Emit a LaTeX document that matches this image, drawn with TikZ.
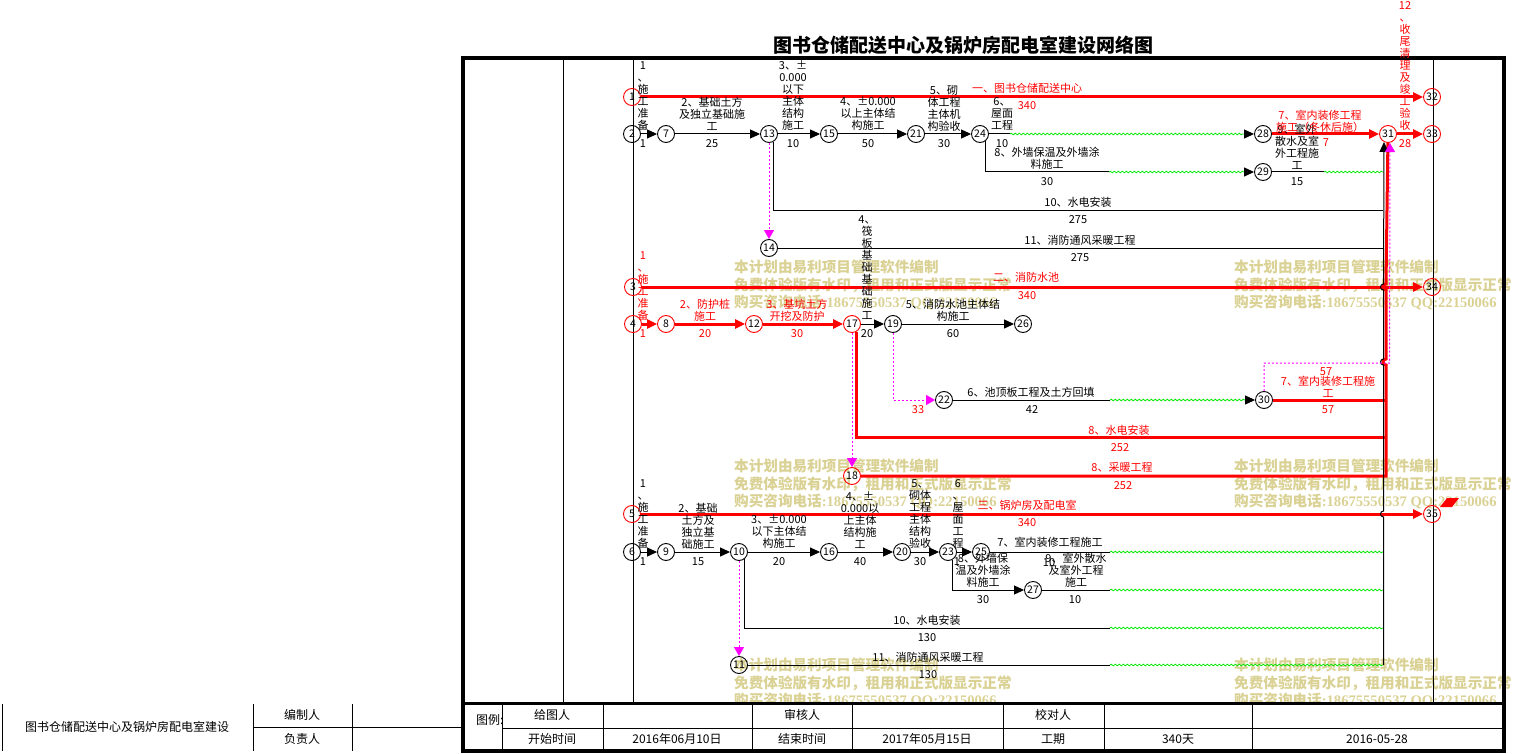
\documentclass[tikz,border=0pt]{standalone}
\usepackage{fontspec}
\setmainfont{Noto Sans CJK SC}
\newfontfamily\wmlat{Liberation Serif}
\usetikzlibrary{arrows.meta,decorations.pathmorphing}
\definecolor{wm}{RGB}{214,204,136}
\definecolor{grn}{RGB}{0,230,0}
\definecolor{mag}{RGB}{255,0,255}
\newcounter{lc}
\newcommand\Lb[4][black]{\stepcounter{lc}\node[lbl,text=#1] (lb\arabic{lc}) at (#2,#3) {#4};}
\newcommand\Tb[3]{\stepcounter{lc}\node[tbl] (tb\arabic{lc}) at (#1,#2) {#3};}
\newcommand\Wm[2]{\stepcounter{lc}%
 \node[wmk] (wa\arabic{lc}) at (#1,#2) {本计划由易利项目管理软件编制};
 \node[wmk] (wb\arabic{lc}) at (#1,#2+18) {免费体验版有水印，租用和正式版显示正常};
 \node[wmk] (wc\arabic{lc}) at (#1,#2+35) {购买咨询电话{\wmlat\bfseries :18675550537 QQ:22150066}};}
\tikzset{
 nd/.style={circle,draw=black,line width=0.9pt,inner sep=0pt,minimum size=17pt,font=\fontsize{10.5}{10.5}\selectfont},
 rnd/.style={nd,draw=red},
 bl/.style={draw=black,line width=1pt},
 rl/.style={draw=red,line width=3pt},
 ba/.style={bl,-{Triangle[length=10pt,width=9pt]}},
 ra/.style={rl,-{Triangle[length=10pt,width=9pt]}},
 wv/.style={draw=grn,line width=0.8pt,decorate,decoration={snake,amplitude=0.8pt,segment length=4pt}},
 dt/.style={draw=mag,line width=1pt,dash pattern=on 2pt off 2pt},
 da/.style={dt,-{Triangle[length=9pt,width=10pt]}},
 lbl/.style={font=\fontsize{11}{12}\selectfont,align=center,inner sep=0pt},
 tbl/.style={font=\fontsize{12}{12}\selectfont,inner sep=0pt},
 wmk/.style={anchor=base west,inner sep=0pt,font=\bfseries\fontsize{14.6}{14.6}\selectfont,text=wm,text opacity=0.9},
}
\begin{document}
\begin{tikzpicture}[x=1pt,y=-1pt]
\useasboundingbox (0,0) rectangle (1517,754);
% watermark
\Wm{734}{272.6}
\Wm{1234}{272.6}
\Wm{734}{471.6}
\Wm{1234}{471.6}
\Wm{734}{670.6}
\Wm{1234}{670.6}
\fill[white] (463,704) rectangle (1504,751);
% title
\node[font=\bfseries\fontsize{19}{19}\selectfont,inner sep=0pt] (title) at (963,45) {图书仓储配送中心及锅炉房配电室建设网络图};
% frame
\draw[line width=4pt] (463,58) rectangle (1504,751);
\draw[line width=3pt] (463,703.5) -- (1504,703.5);
\draw[bl] (563,58) -- (563,703);
\draw[bl] (633,58) -- (633,703);
\draw[bl] (1433,58) -- (1433,703);
\draw[bl] (502,728) -- (1504,728);
\foreach \xx in {502,603,752,852,1003,1104,1252} {\draw[bl] (\xx,704) -- (\xx,751);}
% left table
\draw[bl] (2,704) -- (2,751);
\draw[bl] (253,704) -- (253,751);
\draw[bl] (352,704) -- (352,751);
\draw[bl] (253,727) -- (463,727);
\Tb{127}{727}{图书仓储配送中心及锅炉房配电室建设}
\Tb{302}{715}{编制人}
\Tb{302}{739}{负责人}
\node[tbl,anchor=west] (tuli) at (476,720) {图例:};
\Tb{552}{715}{给图人}
\Tb{552}{739}{开始时间}
\Tb{677}{739}{2016年06月10日}
\Tb{802}{715}{审核人}
\Tb{802}{739}{结束时间}
\Tb{927}{739}{2017年05月15日}
\Tb{1053}{715}{校对人}
\Tb{1053}{739}{工期}
\Tb{1178}{739}{340天}
\Tb{1377}{739}{2016-05-28}
% nodes
\node[rnd] (n1) at (632,97) {1};
\node[nd] (n2) at (632,134) {2};
\node[nd] (n7) at (666,134) {7};
\node[nd] (n13) at (769,134) {13};
\node[nd] (n15) at (829,134) {15};
\node[nd] (n21) at (916,134) {21};
\node[nd] (n24) at (980,134) {24};
\node[nd] (n28) at (1263,134) {28};
\node[nd] (n29) at (1263,172) {29};
\node[rnd] (n31) at (1388,134) {31};
\node[rnd] (n32) at (1432,97) {32};
\node[rnd] (n33) at (1432,134) {33};
\node[nd] (n14) at (769,248) {14};
\node[rnd] (n3) at (633,287) {3};
\node[rnd] (n34) at (1432,287) {34};
\node[rnd] (n4) at (633,324) {4};
\node[rnd] (n8) at (666,324) {8};
\node[rnd] (n12) at (754,324) {12};
\node[rnd] (n17) at (852,324) {17};
\node[nd] (n19) at (893,324) {19};
\node[nd] (n26) at (1023,324) {26};
\node[nd] (n22) at (944,400) {22};
\node[nd] (n30) at (1264,400) {30};
\node[rnd] (n18) at (852,476) {18};
\node[rnd] (n5) at (632,514) {5};
\node[rnd] (n35) at (1432,514) {35};
\node[nd] (n6) at (632,552) {6};
\node[nd] (n9) at (666,552) {9};
\node[nd] (n10) at (739,552) {10};
\node[nd] (n16) at (829,552) {16};
\node[nd] (n20) at (902,552) {20};
\node[nd] (n23) at (948,552) {23};
\node[nd] (n25) at (981,552) {25};
\node[nd] (n27) at (1033,590) {27};
\node[nd] (n11) at (739,665) {11};
\fill[red] (1440,507) -- (1447,498) -- (1459,498) -- (1452,507) -- cycle;
% coordinates
\coordinate (c24a) at (1010,134);
\coordinate (c24w) at (1244,134);
\coordinate (c24d) at (1109,172);
\coordinate (c24v) at (1244,172);
\coordinate (c29a) at (1324,172);
\coordinate (c29b) at (1383,172);
\coordinate (c13e) at (1383,210);
\coordinate (c14e) at (1383,248);
\coordinate (c22a) at (1110,400);
\coordinate (c22b) at (1245,400);
\coordinate (c30e) at (1386,400);
\coordinate (c17e) at (1386,437);
\coordinate (c18e) at (1386,476);
\coordinate (c30m) at (1389.5,363);
\coordinate (c31m) at (1390,143);
\coordinate (c31b) at (1384,142);
\coordinate (c25a) at (1110,552);
\coordinate (c25b) at (1383,552);
\coordinate (c27a) at (1110,590);
\coordinate (c27b) at (1383,590);
\coordinate (c10a) at (1110,628);
\coordinate (c10b) at (1383,628);
\coordinate (c11a) at (1110,665);
\coordinate (c11b) at (1383,665);
\coordinate (cvb) at (1383.5,665);
% row 1 connectors
\draw[ra] (n1) -- (n32);
\draw[ba] (n2) -- (n7);
\draw[ba] (n7) -- (n13);
\draw[ba] (n13) -- (n15);
\draw[ba] (n15) -- (n21);
\draw[ba] (n21) -- (n24);
\draw[bl] (n24) -- (c24a);
\draw[wv] (c24a) -- (c24w);
\draw[ba] (c24w) -- (n28);
\draw[bl] (n24.-55) |- (c24d);
\draw[wv] (c24d) -- (c24v);
\draw[ba] (c24v) -- (n29);
\draw[bl] (n29) -- (c29a);
\draw[wv] (c29a) -- (c29b);
\draw[bl] (n13.-62) |- (c13e);
\draw[da] (n13) -- (n14);
\draw[bl] (n14) -- (c14e);
\draw[ra] (n28) -- (n31);
\draw[ra] (n31) -- (n33);
% row 2 connectors
\draw[ra] (n3) -- (n34);
\draw[ra] (n4) -- (n8);
\draw[ra] (n8) -- (n12);
\draw[ra] (n12) -- (n17);
\draw[ba] (n17) -- (n19);
\draw[ba] (n19) -- (n26);
\draw[da] (n19.south) |- (n22);
\draw[bl] (n22) -- (c22a);
\draw[wv] (c22a) -- (c22b);
\draw[ba] (c22b) -- (n30);
\draw[rl] (n30) -- (c30e);
\draw[rl] (n17.-62) |- (c17e);
\draw[da] (n17) -- (n18);
% row 3 connectors
\draw[ra] (n5) -- (n35);
\draw[ba] (n6) -- (n9);
\draw[ba] (n9) -- (n10);
\draw[ba] (n10) -- (n16);
\draw[ba] (n16) -- (n20);
\draw[ba] (n20) -- (n23);
\draw[ba] (n23) -- (n25);
\draw[bl] (n25) -- (c25a);
\draw[wv] (c25a) -- (c25b);
\draw[ba] (n23.-62) |- (n27);
\draw[bl] (n27) -- (c27a);
\draw[wv] (c27a) -- (c27b);
\draw[bl] (n10.-55) |- (c10a);
\draw[wv] (c10a) -- (c10b);
\draw[da] (n10) -- (n11);
\draw[bl] (n11) -- (c11a);
\draw[wv] (c11a) -- (c11b);
% collecting verticals
\draw[rl] (n18) -- (c18e) -- (1386,365) .. controls (1382,365) and (1382,359) .. (1386,359) -- (1386,290) .. controls (1382,290) and (1382,284) .. (1386,284) -- (n31);
\draw[ba] (cvb) -- (1383.5,517) .. controls (1379.5,517) and (1379.5,511) .. (1383.5,511) -- (1383.5,365) .. controls (1379.5,365) and (1379.5,359) .. (1383.5,359) -- (1383.5,290) .. controls (1379.5,290) and (1379.5,284) .. (1383.5,284) -- (c31b);
\draw[da] (n30.north) |- (c30m) -- (c31m);
% row 1 labels
\Lb{643}{96}{1\\、\\施\\工\\准\\备}
\Lb{643}{144}{1}
\Lb{712}{114}{2、基础土方\\及独立基础施\\工}
\Lb{712}{144}{25}
\Lb{793}{96}{3、±\\0.000\\以下\\主体\\结构\\施工}
\Lb{793}{144}{10}
\Lb{868}{114}{4、±0.000\\以上主体结\\构施工}
\Lb{868}{144}{50}
\Lb{944}{108}{5、砌\\体工程\\主体机\\构验收}
\Lb{944}{144}{30}
\Lb{1002}{114}{6、\\屋面\\工程}
\Lb{1002}{144}{10}
\Lb{1047}{158}{8、外墙保温及外墙涂\\料施工}
\Lb{1047}{182}{30}
\Lb{1297}{147}{9、室外\\散水及室\\外工程施\\工}
\Lb{1297}{182}{15}
\Lb[red]{1320}{121}{7、室内装修工程\\施工（冬休后施）}
\Lb[red]{1326}{143}{7}
\Lb[red]{1405}{66}{12\\、\\收\\尾\\清\\理\\及\\竣\\工\\验\\收}
\Lb[red]{1405}{144}{28}
\Lb[red]{1027}{88}{一、图书仓储配送中心}
\Lb[red]{1027}{106}{340}
\Lb{1078}{202}{10、水电安装}
\Lb{1078}{220}{275}
\Lb{1080}{240}{11、消防通风采暖工程}
\Lb{1080}{258}{275}
% row 2 labels
\Lb[red]{643}{286}{1\\、\\施\\工\\准\\备}
\Lb[red]{643}{334}{1}
\Lb[red]{1026}{277}{二、消防水池}
\Lb[red]{1027}{296}{340}
\Lb[red]{705}{310}{2、防护桩\\施工}
\Lb[red]{705}{334}{20}
\Lb[red]{797}{310}{3、基坑土方\\开挖及防护}
\Lb[red]{797}{334}{30}
\Lb{867}{268}{4、\\筏\\板\\基\\础\\基\\础\\施\\工}
\Lb{867}{334}{20}
\Lb{953}{310}{5、消防水池主体结\\构施工}
\Lb{953}{334}{60}
\Lb[red]{918}{410}{33}
\Lb{1031}{392}{6、池顶板工程及土方回填}
\Lb{1032}{410}{42}
\Lb[red]{1326}{372}{57}
\Lb[red]{1328}{387}{7、室内装修工程施\\工}
\Lb[red]{1328}{410}{57}
\Lb[red]{1119}{430}{8、水电安装}
\Lb[red]{1120}{448}{252}
\Lb[red]{1122}{467}{8、采暖工程}
\Lb[red]{1123}{486}{252}
% row 3 labels
\Lb[red]{1027}{505}{三、锅炉房及配电室}
\Lb[red]{1027}{523}{340}
\Lb{643}{514}{1\\、\\施\\工\\准\\备}
\Lb{643}{562}{1}
\Lb{698}{526}{2、基础\\土方及\\独立基\\础施工}
\Lb{698}{562}{15}
\Lb{779}{532}{3、±0.000\\以下主体结\\构施工}
\Lb{779}{562}{20}
\Lb{860}{520}{4、±\\0.000以\\上主体\\结构施\\工}
\Lb{860}{562}{40}
\Lb{920}{514}{5、\\砌体\\工程\\主体\\结构\\验收}
\Lb{920}{562}{30}
\Lb{958}{514}{6\\、\\屋\\面\\工\\程}
\Lb{957}{562}{1}
\Lb{983}{570}{8、外墙保\\温及外墙涂\\料施工}
\Lb{983}{600}{30}
\Lb{1050}{542}{7、室内装修工程施工}
\Lb{1049}{563}{10}
\Lb{1076}{570}{9、室外散水\\及室外工程\\施工}
\Lb{1075}{600}{10}
\Lb{927}{620}{10、水电安装}
\Lb{927}{638}{130}
\Lb{928}{657}{11、消防通风采暖工程}
\Lb{928}{675}{130}
\end{tikzpicture}
\end{document}
